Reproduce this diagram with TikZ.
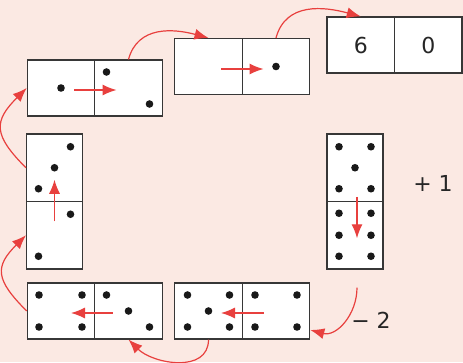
\documentclass[tikz,border=0pt]{standalone}
\usepackage{fontspec}
\setmainfont{DejaVu Sans}
\usetikzlibrary{arrows.meta}
\definecolor{fondo}{RGB}{251,233,227}
\definecolor{flecha}{RGB}{232,64,62}
\definecolor{borde}{RGB}{55,55,55}
\tikzset{
  mitad/.style={draw=borde, line width=1.1pt, fill=white, minimum width=67.5pt, minimum height=56pt, inner sep=0pt},
  mitadv/.style={mitad, minimum width=56pt, minimum height=67.5pt},
  paso/.style={flecha, line width=1.2pt, -{Latex[length=14pt,width=11pt]}},
  salto/.style={paso, looseness=1.1},
  pip/.style={fill=black!90},
  num/.style={font=\fontsize{22}{26}\selectfont, text=black!85},
}
\newcommand\pips[2]{\foreach \dx/\dy in {#2} \fill[pip] ([shift={(\dx,\dy)}]#1.center) circle (3.8pt);}
\begin{document}
\begin{tikzpicture}[x=1pt,y=1pt]
  \useasboundingbox (0,0) rectangle (463,-362);
  \fill[fondo] (0,0) rectangle (463,-362);
  % fichas
  \node[mitad] (d1a) at (61,-88) {};
  \node[mitad] (d1b) at (128.5,-88) {};
  \node[mitad] (d2a) at (208.5,-66.5) {};
  \node[mitad] (d2b) at (276,-66.5) {};
  \node[mitad,num] (d3a) at (360.75,-45) {6};
  \node[mitad,num] (d3b) at (428.25,-45) {0};
  \node[mitadv] (d4a) at (54.5,-167.75) {};
  \node[mitadv] (d4b) at (54.5,-235.25) {};
  \node[mitadv] (d5a) at (355,-167.75) {};
  \node[mitadv] (d5b) at (355,-235.25) {};
  \node[mitad] (d6a) at (208.5,-311) {};
  \node[mitad] (d6b) at (276,-311) {};
  \node[mitad] (d7a) at (61,-311) {};
  \node[mitad] (d7b) at (128.5,-311) {};
  % puntos
  \pips{d1a}{0/0}
  \pips{d1b}{-22/16, 21/-16}
  \pips{d2b}{0/0}
  \pips{d4a}{16/21, 0/0, -16/-21}
  \pips{d4b}{16/21, -16/-21}
  \pips{d5a}{-16/21, 16/21, 0/0, -16/-21, 16/-21}
  \pips{d5b}{-16/22, 16/22, -16/0, 16/0, -16/-21, 16/-21}
  \pips{d6a}{-21/16, 21/16, 0/0, -21/-16, 21/-16}
  \pips{d6b}{-21/16, 21/16, -21/-16, 21/-16}
  \pips{d7a}{-22/16, 21/16, -22/-16, 21/-16}
  \pips{d7b}{-22/16, 0/0, 21/-16}
  % flechas dentro de las fichas
  \draw[paso] ([xshift=13pt,yshift=-2pt]d1a.center) -- ([xshift=-12pt,yshift=-2pt]d1b.center);
  \draw[paso] ([xshift=12.5pt,yshift=-2.5pt]d2a.center) -- ([xshift=-12.5pt,yshift=-2.5pt]d2b.center);
  \draw[paso] ([yshift=14pt]d4b.center) -- ([yshift=-12pt]d4a.center);
  \draw[paso] ([xshift=2pt,yshift=-29pt]d5a.center) -- ([xshift=2pt,yshift=-3pt]d5b.center);
  \draw[paso] ([xshift=-12.5pt,yshift=-2pt]d6b.center) -- ([xshift=12.5pt,yshift=-2pt]d6a.center);
  \draw[paso] ([xshift=-16pt,yshift=-2pt]d7b.center) -- ([xshift=10pt,yshift=-2pt]d7a.center);
  % saltos entre fichas
  \coordinate (cola) at ([xshift=2pt,yshift=-18pt]d5b.south);
  \draw[salto] (cola) to[out=-90,in=-15] ([yshift=-19pt]d6b.east);
  \draw[salto] (d6a.south) to[out=-90,in=-45] (d7b.south);
  \draw[salto,looseness=1.5] (d7a.west) to[out=135,in=225] (d4b.west);
  \draw[salto,looseness=1.5] (d4a.west) to[out=135,in=225] (d1a.west);
  \draw[salto] (d1b.north) to[out=75,in=165] (d2a.north);
  \draw[salto] (d2b.north) to[out=75,in=165] (d3a.north);
  % rotulos
  \node[num] (mas) at (433,-183) {+ 1};
  \node[num] (menos) at (371,-320) {− 2};
\end{tikzpicture}
\end{document}
